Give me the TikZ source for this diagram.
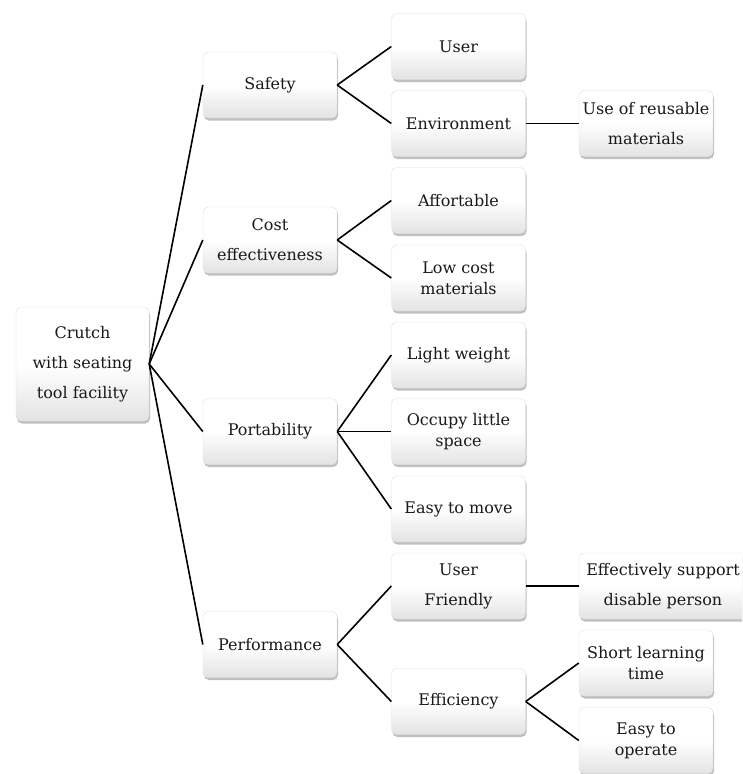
\documentclass[tikz,border=0pt]{standalone}
\usepackage{fontspec}
\setmainfont{DejaVu Serif}
\usetikzlibrary{shadows}

\begin{document}
\begin{tikzpicture}[x=1pt,y=-1pt,line width=1.6pt,
            box/.style={rectangle,rounded corners=5pt,draw=gray!25,line width=0.4pt,
              top color=white,bottom color=gray!22,middle color=white,
              drop shadow={shadow xshift=1pt,shadow yshift=-2.5pt,opacity=0.5},
              minimum width=134pt,minimum height=66pt,inner sep=2pt,align=center,
              text=black!90,font=\fontsize{16}{21}\selectfont},
            loose/.style={font=\fontsize{16}{30}\selectfont}]
            \useasboundingbox (0,0) rectangle (742,774);
            \clip (0,0) rectangle (742,774);

            \node[box,loose,minimum width=133pt,minimum height=114pt] (R) at (82.5,364) {Crutch\\with seating\\tool facility};

            \node[box]          (S)   at (270,85)    {Safety};
            \node[box,loose]    (CE)  at (270,240)   {Cost\\effectiveness};
            \node[box]          (P)   at (270,431.5) {Portability};
            \node[box]          (PF)  at (270,644.5) {Performance};

            \node[box]          (U)   at (458.5,46.5)  {User};
            \node[box]          (EN)  at (458.5,123.5) {Environment};
            \node[box]          (AF)  at (458.5,200.5) {Affortable};
            \node[box]          (LC)  at (458.5,278)   {Low cost\\materials};
            \node[box]          (LW)  at (458.5,355)   {Light weight};
            \node[box]          (OS)  at (458.5,431.5) {Occupy little\\space};
            \node[box]          (EM)  at (458.5,509)   {Easy to move};
            \node[box,loose]    (UF)  at (458.5,586)   {User\\Friendly};
            \node[box]          (EF)  at (458.5,701.5) {Efficiency};

            \node[box,loose]    (RM)  at (646,123.5) {Use of reusable\\materials};
            \node[box,loose,minimum width=168pt] (ES) at (663,586) {Effectively support\\disable person};
            \node[box]          (SL)  at (646,663)   {Short learning\\time};
            \node[box]          (EO)  at (646,740.5) {Easy to\\operate};

            \path (R.east) edge (S.west)
                           edge (CE.west)
                           edge (P.west)
                           edge (PF.west)
            (S.east) edge (U.west) edge (EN.west)
            (CE.east) edge (AF.west) edge (LC.west)
            (P.east) edge (LW.west) edge (OS.west) edge (EM.west)
            (PF.east) edge (UF.west) edge (EF.west)
            (EN.east) edge (RM.west)
            (UF.east) edge (ES.west)
            (EF.east) edge (SL.west) edge (EO.west);
            \end{tikzpicture}
\end{document}
